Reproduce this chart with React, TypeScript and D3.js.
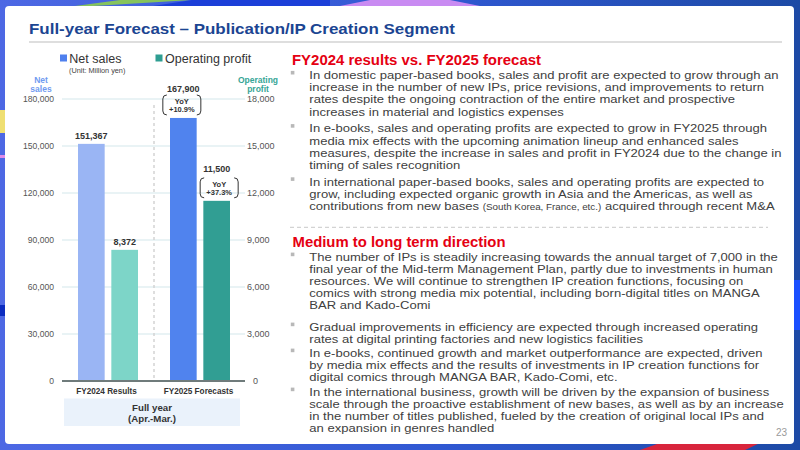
import React from 'react';
import * as d3 from 'd3';

const categories = ['FY2024 Results', 'FY2025 Forecasts'];
const seriesNames = ['Net sales', 'Operating profit'];
const netSales = [151367, 167900];
const operatingProfit = [8372, 11500];
const salesYoY = ['', '+10.9%'];
const profitYoY = ['', '+37.3%'];
const salesTicks = [0, 30000, 60000, 90000, 120000, 150000, 180000];
const profitTicks = [0, 3000, 6000, 9000, 12000, 15000, 18000];

const titleText = 'Full-year Forecast \u2013 Publication/IP Creation Segment';
const resultsTitle = 'FY2024 results vs. FY2025 forecast';
const directionTitle = 'Medium to long term direction';
const smallNote = '(South Korea, France, etc.)';

const resultsBullets = [
  [
    'In domestic paper-based books, sales and  profit are expected to grow through an',
    'increase in the number of new IPs, price revisions, and improvements to return',
    'rates despite the ongoing contraction of the entire market and prospective',
    'increases in material and logistics expenses',
  ],
  [
    'In e-books, sales and operating profits are expected to grow in FY2025 through',
    'media mix effects with the upcoming animation lineup and enhanced sales',
    'measures, despite the increase in sales and profit in FY2024 due to the change in',
    'timing of sales recognition',
  ],
  [
    'In international paper-based books, sales and operating profits are expected to',
    'grow, including expected organic growth in Asia and the Americas, as well as',
    'contributions from new bases (South Korea, France, etc.) acquired through recent M&A',
  ],
];
const resultsStarts = [79.3, 132.5, 185.7];

const directionBullets = [
  [
    'The number of IPs is steadily increasing towards the annual target of 7,000 in the',
    'final year of the Mid-term Management Plan, partly due to investments in human',
    'resources. We will continue to strengthen IP creation functions, focusing on',
    'comics with strong media mix potential, including born-digital titles on MANGA',
    'BAR and Kado-Comi',
  ],
  [
    'Gradual improvements in efficiency are expected through increased operating',
    'rates at digital printing factories and new logistics facilities',
  ],
  [
    'In e-books, continued growth and market outperformance are expected, driven',
    'by media mix effects and the results of investments in IP creation functions for',
    'digital comics through MANGA BAR, Kado-Comi, etc.',
  ],
  [
    'In the international business, growth will be driven by the expansion of business',
    'scale through the proactive establishment of new bases, as well as by an increase',
    'in the number of titles published, fueled by the creation of original local IPs and',
    'an expansion in genres handled',
  ],
];
const directionStarts = [261, 331, 357, 396];

const FONT = '"Liberation Sans", Arial, sans-serif';
const salesColors = ['#9ab5f4', '#5083ee'];
const profitColors = ['#7dd5c8', '#319e93'];

const plotTop = 99;
const plotBottom = 381;
const yLeft = d3.scaleLinear().domain([0, 180000]).range([plotBottom, plotTop]);
const yRight = d3.scaleLinear().domain([0, 18000]).range([plotBottom, plotTop]);
const x0 = d3.scaleBand().domain(categories).range([62, 246]);
const x1 = d3.scaleBand().domain(seriesNames).range([16, 76]).paddingInner(0.2);
const fmt = d3.format(',');

// body text is a bit wider than Liberation Sans, stretch it horizontally
const BODY_SIZE = 11.4;
const BODY_SX = 1.145;
const LINE_H = 12.1;

const Bubble = ({ cx, top, text }: { cx: number; top: number; text: string }) => {
  const l = cx - 19, r = cx + 19, b = top + 20;
  return (
    <g>
      <path d={`M${l + 4},${top} Q${l},${top} ${l},${top + 4} L${l},${b - 4} Q${l},${b} ${l + 4},${b}`}
        fill="none" stroke="#333" strokeWidth={1} />
      <path d={`M${r - 4},${top} Q${r},${top} ${r},${top + 4} L${r},${b - 4} Q${r},${b} ${r - 4},${b}`}
        fill="none" stroke="#333" strokeWidth={1} />
      <text x={cx} y={top + 9.5} textAnchor="middle" fontSize={7.5} fontWeight="bold" fill="#333">YoY</text>
      <text x={cx} y={top + 17.5} textAnchor="middle" fontSize={7.5} fontWeight="bold" fill="#333">{text}</text>
    </g>
  );
};

const Line = ({ y, text }: { y: number; text: string }) => {
  const k = text.indexOf(smallNote);
  if (k < 0) return <text x={0} y={y}>{text}</text>;
  return (
    <text x={0} y={y}>
      {text.slice(0, k)}
      <tspan fontSize={8.6}>{smallNote}</tspan>
      {text.slice(k + smallNote.length)}
    </text>
  );
};

const Bullets = ({ items, starts }: { items: string[][]; starts: number[] }) => (
  <g>
    {items.map((lines, i) => (
      <rect key={i} x={290.8} y={starts[i] - 8.4} width={3.6} height={3.6} fill="#b8b8b8" />
    ))}
    <g transform={`translate(309.3,0) scale(${BODY_SX},1)`} fontSize={BODY_SIZE} fill="#404040">
      {items.map((lines, i) =>
        lines.map((t, j) => <Line key={`${i}-${j}`} y={starts[i] + j * LINE_H} text={t} />)
      )}
    </g>
  </g>
);

const Chart = () => (
  <g fontFamily={FONT}>
    {/* legend */}
    <rect x={60} y={54.5} width={7} height={7} fill="#4f80ee" />
    <text x={69.3} y={62.7} fontSize={12.5} fill="#333">{seriesNames[0]}</text>
    <rect x={155.5} y={54.5} width={7} height={7} fill="#2f9e92" />
    <text x={165} y={62.7} fontSize={12.5} fill="#333">{seriesNames[1]}</text>
    <text x={69} y={73.3} fontSize={7.3} fill="#444">(Unit: Million yen)</text>

    {/* axis titles */}
    <g fontSize={8.5} fontWeight="bold" textAnchor="middle">
      <text x={41} y={82.7} fill="#709bf0">Net</text>
      <text x={41} y={92.3} fill="#709bf0">sales</text>
      <text x={258} y={82.7} fill="#36a596">Operating</text>
      <text x={258} y={92.3} fill="#36a596">profit</text>
    </g>

    {/* grid + ticks */}
    {salesTicks.map((t) => (
      <g key={t}>
        {t > 0 && <line x1={62} x2={245} y1={yLeft(t)} y2={yLeft(t)} stroke="#e2eff2" strokeWidth={1.5} />}
        <text x={54} y={yLeft(t) + 3} textAnchor="end" fontSize={8.6} fill="#555">{fmt(t)}</text>
      </g>
    ))}
    {profitTicks.map((t) => (
      <text key={t} x={t === 0 ? 253 : 247} y={yRight(t) + 3} fontSize={9} fill="#555">{fmt(t)}</text>
    ))}

    {/* separator */}
    <line x1={154} x2={154} y1={105} y2={plotBottom} stroke="#d4d4d4" strokeWidth={1.5} strokeDasharray="3,3" />

    {/* bars */}
    {categories.map((c, i) => {
      const bx = x0(c)!;
      const w = x1.bandwidth();
      const sx = bx + x1(seriesNames[0])!;
      const px = bx + x1(seriesNames[1])!;
      const sy = yLeft(netSales[i]);
      const py = yRight(operatingProfit[i]);
      return (
        <g key={c}>
          <rect x={sx} y={sy} width={w} height={plotBottom - sy} fill={salesColors[i]} />
          <rect x={px} y={py} width={w} height={plotBottom - py} fill={profitColors[i]} />
          <text x={sx + w / 2} y={salesYoY[i] ? sy - 26 : sy - 5} textAnchor="middle" fontSize={9} fontWeight="bold" fill="#333">{fmt(netSales[i])}</text>
          <text x={px + w / 2} y={profitYoY[i] ? py - 29 : py - 5} textAnchor="middle" fontSize={9} fontWeight="bold" fill="#333">{fmt(operatingProfit[i])}</text>
          {salesYoY[i] && <Bubble cx={sx + w / 2 - 1.5} top={sy - 23} text={salesYoY[i]} />}
          {profitYoY[i] && <Bubble cx={px + w / 2 + 2.5} top={py - 23} text={profitYoY[i]} />}
          <text x={bx + x0.bandwidth() / 2 - 1.5} y={394} textAnchor="middle" fontSize={8.2} fontWeight="bold" fill="#333">{c}</text>
        </g>
      );
    })}

    {/* axis */}
    <line x1={62} x2={245} y1={plotBottom} y2={plotBottom} stroke="#6f7b7b" strokeWidth={2} />

    <rect x={64} y={398.5} width={176} height={27.5} fill="#eaf2fb" />
    <text x={152} y={411} textAnchor="middle" fontSize={9.7} fontWeight="bold" fill="#333">Full year</text>
    <text x={152} y={421.7} textAnchor="middle" fontSize={9.7} fontWeight="bold" fill="#333">(Apr.-Mar.)</text>
  </g>
);

export default function App() {
  return (
    <svg width={800} height={450} style={{ position: 'fixed', left: 0, top: 0 }} fontFamily={FONT}>
      <defs>
        <linearGradient id="bg" x1="0" x2="1" y1="0" y2="0">
          <stop offset="0" stopColor="#4d68e4" />
          <stop offset="0.55" stopColor="#3058d2" />
          <stop offset="1" stopColor="#1d4aa5" />
        </linearGradient>
      </defs>
      <rect width={800} height={450} fill="url(#bg)" />
      {/* decorative shapes in the frame */}
      <polygon points="60,8 192,0 120,0" fill="#86c45c" />
      <polygon points="192,0 330,0 330,8 140,8" fill="#1c3fd8" />
      <polygon points="330,8 490,8 450,0 370,0" fill="#c98bf2" />
      <rect x={0} y={110} width={6} height={23} fill="#efdf72" />
      <rect x={0} y={155} width={6} height={3} fill="#e08ae8" />
      <rect x={0} y={305} width={6} height={11} fill="#0b2cc0" />
      <polygon points="640,450 745,450 760,443 660,443" fill="#d8253c" />
      <rect x={794} y={280} width={6} height={50} fill="#1a4fff" />

      {/* panel */}
      <rect x={5} y={6} width={789} height={438} rx={4} fill="#ffffff" />
      <text x={29} y={34} fontSize={15} fontWeight="bold" fill="#1b4592" textLength={426} lengthAdjust="spacingAndGlyphs">{titleText}</text>
      <line x1={29} x2={782} y1={42} y2={42} stroke="#dedede" strokeWidth={2} />

      <Chart />

      <text x={292} y={65} fontSize={14.5} fontWeight="bold" fill="#e50012" textLength={249} lengthAdjust="spacingAndGlyphs">{resultsTitle}</text>
      <Bullets items={resultsBullets} starts={resultsStarts} />
      <line x1={290} x2={768} y1={227.3} y2={227.3} stroke="#c8c8c8" strokeWidth={1} strokeDasharray="4,3" />
      <text x={292.5} y={246.7} fontSize={14.5} fontWeight="bold" fill="#e50012" textLength={213} lengthAdjust="spacingAndGlyphs">{directionTitle}</text>
      <Bullets items={directionBullets} starts={directionStarts} />

      <text x={787} y={436} textAnchor="end" fontSize={10} fill="#9a9a9a">23</text>
    </svg>
  );
}
